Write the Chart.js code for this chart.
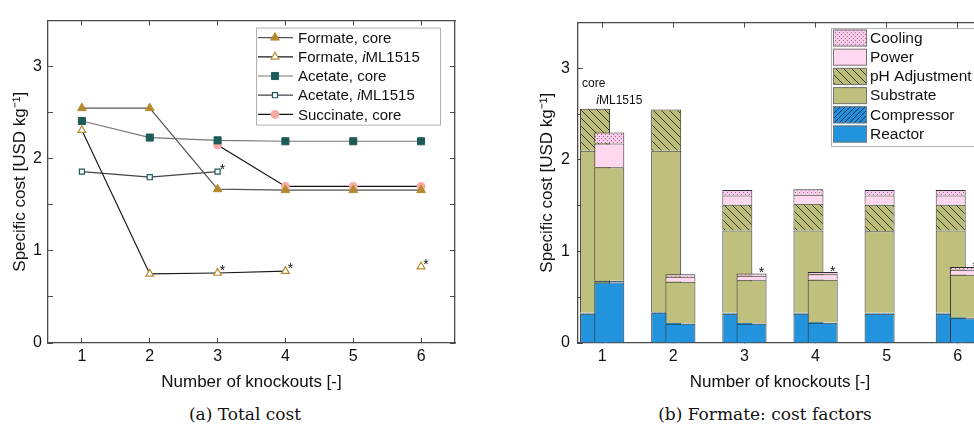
<!DOCTYPE html>
<html>
<head>
<meta charset="utf-8">
<script src="https://cdn.jsdelivr.net/npm/chart.js@4.4.0/dist/chart.umd.min.js"></script>
<style>
  html, body { margin: 0; padding: 0; background: #fff; overflow: hidden; width: 974px; height: 433px; }
  #left { position: absolute; left: 0; top: 0; }
  #right { position: absolute; left: 487px; top: 0; }
  .cap { position: absolute; top: 404px; font-family: 'DejaVu Serif', serif; font-size: 17px; color: #111;
         transform: translateX(-50%); white-space: nowrap; }
</style>
</head>
<body>
<canvas id="left" width="487" height="400"></canvas>
<canvas id="right" width="513" height="400"></canvas>
<div class="cap" style="left:245px">(a) Total cost</div>
<div class="cap" style="left:765px">(b) Formate: cost factors</div>
<script>
// --- data: total cost (a)
const knockouts = [1, 2, 3, 4, 5, 6]
const seriesNames = ['Formate, core', 'Formate, iML1515', 'Acetate, core', 'Acetate, iML1515', 'Succinate, core']
const formateCore = [2.55, 2.55, 1.67, 1.66, 1.66, 1.66]
const formateIml = [2.31, 0.75, 0.76, 0.78, null, 0.83]
const acetateCore = [2.41, 2.23, 2.20, 2.19, 2.19, 2.19]
const acetateIml = [1.86, 1.80, 1.86, null, null, null]
const succinateCore = [null, null, 2.15, 1.70, 1.70, 1.70]
const formateImlStars = [3, 4, 6]
const acetateImlStars = [3]

// --- data: formate cost factors (b), bottom to top
const factorNames = ['Reactor', 'Compressor', 'Substrate', 'pH Adjustment', 'Power', 'Cooling']
const reactorCore = [0.32, 0.33, 0.32, 0.32, 0.32, 0.32]
const compressorCore = [0.01, 0.01, 0.01, 0.01, 0.01, 0.01]
const substrateCore = [1.77, 1.76, 0.90, 0.90, 0.89, 0.90]
const phCore = [0.46, 0.45, 0.28, 0.29, 0.29, 0.28]
const powerCore = [0, 0, 0.10, 0.10, 0.10, 0.10]
const coolingCore = [0, 0, 0.06, 0.06, 0.06, 0.06]
const reactorIml = [0.66, 0.21, 0.21, 0.22, null, 0.27]
const compressorIml = [0.02, 0.005, 0.005, 0.005, null, 0.005]
const substrateIml = [1.24, 0.455, 0.47, 0.465, null, 0.47]
const phIml = [0, 0, 0, 0, null, 0]
const powerIml = [0.26, 0.055, 0.05, 0.06, null, 0.055]
const coolingIml = [0.12, 0.025, 0.025, 0.025, null, 0.03]
const formateStarsB = [3, 4, 6]

const FONT = "'Liberation Sans', Arial, sans-serif"
const AXIS = '#4a4a4a'
Chart.defaults.font.family = FONT
Chart.defaults.color = '#111'
Chart.defaults.animation = false

const gold = '#b58a2e'
const teal = '#1d5b59'
const salmon = '#f7aaa1'

function makePattern(bg, size, draw) {
  const c = document.createElement('canvas')
  c.width = c.height = size
  const g = c.getContext('2d')
  g.fillStyle = bg
  g.fillRect(0, 0, size, size)
  draw(g, size)
  return g.createPattern(c, 'repeat')
}
function hatch(dir, color) {
  return (g, s) => {
    g.strokeStyle = color
    g.lineWidth = 1
    g.beginPath()
    if (dir === 'back') {
      g.moveTo(-1, -1); g.lineTo(s + 1, s + 1)
      g.moveTo(-1, s - 1); g.lineTo(1, s + 1)
      g.moveTo(s - 1, -1); g.lineTo(s + 1, 1)
    } else {
      g.moveTo(-1, s + 1); g.lineTo(s + 1, -1)
      g.moveTo(-1, 1); g.lineTo(1, -1)
      g.moveTo(s - 1, s + 1); g.lineTo(s + 1, s - 1)
    }
    g.stroke()
  }
}
const fills = [
  '#2293dd',
  makePattern('#2191dc', 5, hatch('fwd', '#16315a')),
  '#bfc07e',
  makePattern('#bcbd79', 8, hatch('back', '#3d3d2c')),
  '#ffd7ef',
  makePattern('#f9cdea', 4, (g) => { g.fillStyle = '#9a6b8a'; g.fillRect(0, 0, 1, 1); g.fillRect(2, 2, 1, 1) })
]

function drawLabel(ctx, text, x, y, size) {
  const parts = text.split('iML')
  ctx.font = `${size}px ${FONT}`
  ctx.fillText(parts[0], x, y)
  if (parts.length > 1) {
    let cx = x + ctx.measureText(parts[0]).width
    ctx.font = `italic ${size}px ${FONT}`
    ctx.fillText('i', cx, y)
    cx += ctx.measureText('i').width
    ctx.font = `${size}px ${FONT}`
    ctx.fillText('ML' + parts[1], cx, y)
  }
}

function xAxes(min, max) {
  const base = {
    type: 'linear', min: min, max: max, offset: false,
    afterBuildTicks: s => { s.ticks = knockouts.map(v => ({ value: v })) },
    grid: { drawOnChartArea: false, tickLength: -5, color: AXIS, lineWidth: 1, offset: false },
    border: { color: AXIS, width: 1.3 }
  }
  return {
    x: { ...base, position: 'bottom', z: 1,
      ticks: { font: { size: 16 }, padding: 9, maxRotation: 0, autoSkip: false },
      title: { display: true, text: 'Number of knockouts [-]', font: { size: 17 }, padding: { top: 0, bottom: 7 } },
      afterFit: s => { s.height = 57 } },
    x2: { ...base, position: 'top', ticks: { display: false }, afterFit: s => { s.height = 0 } }
  }
}
function yAxes(width, pad, stacked) {
  const base = {
    min: 0, max: 3.5, stacked: stacked,
    grid: { drawOnChartArea: false, tickLength: -5, color: AXIS, lineWidth: 1 },
    border: { color: AXIS, width: 1.3 }
  }
  return {
    y: { ...base, position: 'left',
      ticks: { stepSize: 0.5, padding: pad, font: { size: 16 }, autoSkip: false, callback: v => Number.isInteger(v) ? v : '' },
      title: { display: true, text: 'Specific cost [USD kg⁻¹]', font: { size: 17 }, padding: { top: 10, bottom: 0 } },
      afterFit: s => { s.width = width } },
    y2: { ...base, position: 'right', ticks: { stepSize: 0.5, display: false }, afterFit: s => { s.width = 0 } }
  }
}

// ---------- (a) total cost
const lineSeries = [
  { data: formateCore, line: '#555', color: gold, style: 'triangle', r: 5, hollow: false, stars: [] },
  { data: formateIml, line: '#1a1a1a', color: gold, style: 'triangle', r: 4.5, hollow: true, stars: formateImlStars },
  { data: acetateCore, line: '#777', color: teal, style: 'rect', r: 5, hollow: false, stars: [] },
  { data: acetateIml, line: '#444', color: teal, style: 'rect', r: 3.6, hollow: true, stars: acetateImlStars },
  { data: succinateCore, line: '#111', color: salmon, style: 'circle', r: 4, hollow: false, stars: [] }
]

const leftDecor = {
  id: 'leftDecor',
  afterDatasetsDraw(chart) {
    const ctx = chart.ctx
    ctx.save()
    ctx.fillStyle = '#111'
    ctx.font = `14px ${FONT}`
    ctx.textAlign = 'center'
    ctx.textBaseline = 'alphabetic'
    chart.data.datasets.forEach((ds, i) => {
      ds.stars.forEach(k => {
        const el = chart.getDatasetMeta(i).data[knockouts.indexOf(k)]
        ctx.fillText('*', el.x + 5, el.y + 2)
      })
    })
    // legend box
    const a = chart.chartArea
    const bx = a.right - 199, by = a.top + 7
    ctx.fillStyle = '#fff'
    ctx.fillRect(bx, by, 184, 97)
    ctx.strokeStyle = '#b0b0b0'
    ctx.lineWidth = 1
    ctx.strokeRect(bx + 0.5, by + 0.5, 184, 97)
    ctx.textAlign = 'left'
    ctx.textBaseline = 'middle'
    chart.data.datasets.forEach((ds, i) => {
      const y = by + 10 + i * 19.2
      ctx.strokeStyle = ds.borderColor
      ctx.lineWidth = 1.2
      ctx.beginPath(); ctx.moveTo(bx + 2, y); ctx.lineTo(bx + 37, y); ctx.stroke()
      ctx.fillStyle = ds.pointBackgroundColor
      ctx.strokeStyle = ds.pointBorderColor
      ctx.lineWidth = ds.pointBorderWidth
      Chart.helpers.drawPoint(ctx, { pointStyle: ds.pointStyle, radius: ds.pointRadius, borderWidth: ds.pointBorderWidth, rotation: 0 }, bx + 19, y)
      ctx.fillStyle = '#111'
      drawLabel(ctx, ds.label, bx + 42, y + 1, 15)
    })
    ctx.restore()
  }
}

new Chart(document.getElementById('left'), {
  type: 'line',
  data: {
    datasets: lineSeries.map((s, i) => ({
      label: seriesNames[i],
      data: knockouts.map((k, j) => ({ x: k, y: s.data[j] })),
      borderColor: s.line,
      borderWidth: 1.2,
      tension: 0,
      pointStyle: s.style,
      pointRadius: s.r,
      pointBackgroundColor: s.hollow ? '#fff' : s.color,
      pointBorderColor: s.color,
      pointBorderWidth: s.hollow ? 1.2 : 1,
      stars: s.stars
    }))
  },
  options: {
    responsive: false,
    devicePixelRatio: 1,
    events: [],
    layout: { padding: { left: 0, top: 15, right: 32, bottom: 0 } },
    plugins: { legend: { display: false }, tooltip: { enabled: false } },
    scales: { ...xAxes(0.5, 6.5), ...yAxes(48, 11, false) }
  },
  plugins: [leftDecor]
})

// ---------- (b) cost factors
const barOffset = 0.1
const coreStacks = [reactorCore, compressorCore, substrateCore, phCore, powerCore, coolingCore]
const imlStacks = [reactorIml, compressorIml, substrateIml, phIml, powerIml, coolingIml]
const total = (stacks, j) => stacks.reduce((t, arr) => t + (arr[j] || 0), 0)

function barSet(stacks, name, shift, order) {
  return stacks.map((arr, i) => ({
    label: factorNames[i],
    stack: name,
    order: order,
    data: knockouts.map((k, j) => ({ x: k + shift, y: arr[j] })),
    backgroundColor: fills[i],
    borderColor: '#2e2e2e',
    borderWidth: 1
  }))
}

const rightDecor = {
  id: 'rightDecor',
  afterDraw(chart) {
    const ctx = chart.ctx
    const xs = chart.scales.x, ys = chart.scales.y
    ctx.save()
    ctx.fillStyle = '#111'
    ctx.font = `14px ${FONT}`
    ctx.textAlign = 'center'
    ctx.textBaseline = 'alphabetic'
    formateStarsB.forEach(k => {
      const j = knockouts.indexOf(k)
      ctx.fillText('*', xs.getPixelForValue(k + barOffset) + 10, ys.getPixelForValue(total(imlStacks, j)) + 4)
    })
    // core / iML1515 tags above the first pair
    ctx.textAlign = 'left'
    ctx.textBaseline = 'middle'
    ctx.font = `12px ${FONT}`
    ctx.fillText('core', xs.getPixelForValue(1 - barOffset) - 13, ys.getPixelForValue(total(coreStacks, 0)) - 25)
    drawLabel(ctx, 'iML1515', xs.getPixelForValue(1 + barOffset) - 13, ys.getPixelForValue(total(imlStacks, 0)) - 32, 12)
    // legend
    const bx = 344, by = 28
    ctx.fillStyle = '#fff'
    ctx.fillRect(bx, by, 200, 118)
    ctx.strokeStyle = '#b0b0b0'
    ctx.lineWidth = 1
    ctx.strokeRect(bx + 0.5, by + 0.5, 200, 118)
    const order = factorNames.slice().reverse()
    order.forEach((name, r) => {
      const i = factorNames.indexOf(name)
      const top = by + 1.5 + r * 19.2
      ctx.fillStyle = fills[i]
      ctx.fillRect(bx + 2, top, 34, 17)
      ctx.strokeStyle = '#777'
      ctx.strokeRect(bx + 2.5, top + 0.5, 33, 16)
      ctx.fillStyle = '#111'
      drawLabel(ctx, name, bx + 39, top + 9, 15.5)
    })
    ctx.restore()
  }
}

new Chart(document.getElementById('right'), {
  type: 'bar',
  data: {
    datasets: [
      ...barSet(imlStacks, 'iml', barOffset, 0),
      ...barSet(coreStacks, 'core', -barOffset, 1)
    ]
  },
  options: {
    responsive: false,
    devicePixelRatio: 1,
    events: [],
    grouped: false,
    barPercentage: 3,
    maxBarThickness: 30,
    layout: { padding: { left: 40, top: 15, right: 18, bottom: 0 } },
    plugins: { legend: { display: false }, tooltip: { enabled: false } },
    scales: { ...xAxes(0.66, 6.34), ...yAxes(51, 13, true) }
  },
  plugins: [rightDecor]
})
</script>
</body>
</html>
